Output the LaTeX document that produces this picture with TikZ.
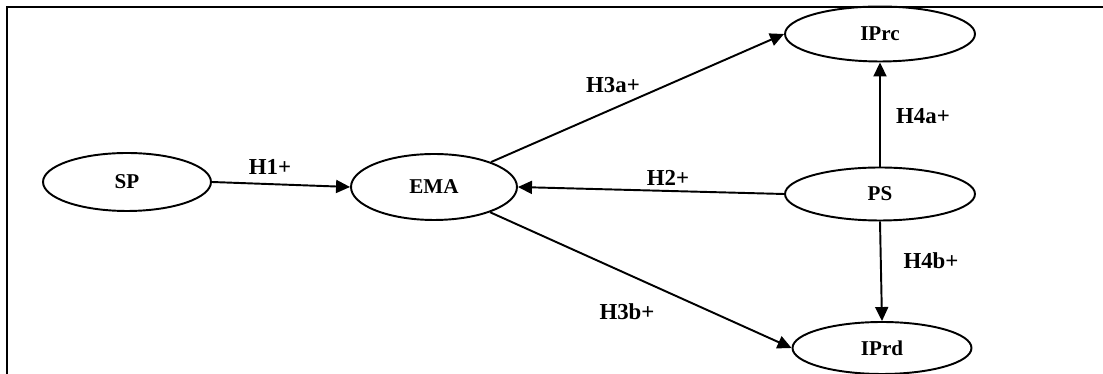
\documentclass[tikz,border=0pt]{standalone}
\usepackage{fontspec}
\setmainfont{Liberation Serif}
\usetikzlibrary{shapes.geometric,arrows.meta}
\begin{document}
\begin{tikzpicture}[x=0.02cm, y=-0.02cm,
    latent/.style={draw, ellipse, line width=1.1pt, inner sep=0pt, font=\fontsize{12}{14}\selectfont\bfseries},
    hyp/.style={-{Triangle[length=0.28cm,width=0.26cm]}, line width=1.1pt},
    hlabel/.style={font=\fontsize{13}{15}\selectfont\bfseries}]
    \useasboundingbox (0,0) rectangle (1103,374);

    % Frame around the model
    \draw[line width=1.1pt] (7,374) -- (7,7) -- (1103,7);

    % Constructs
    \node[latent, minimum width=3.36cm, minimum height=1.16cm] (SP) at (127,182) {SP};
    \node[latent, minimum width=3.32cm, minimum height=1.32cm] (EMA) at (434,187) {EMA};
    \node[latent, minimum width=3.8cm, minimum height=1.1cm] (IPrc) at (880,34) {IPrc};
    \node[latent, minimum width=3.8cm, minimum height=1.06cm] (PS) at (880,194) {PS};
    \node[latent, minimum width=3.58cm, minimum height=1.04cm] (IPrd) at (882,348) {IPrd};

    % Hypothesised paths
    \draw[hyp] (SP.east) -- (EMA.west);
    \draw[hyp] (EMA) -- (IPrc.west);
    \draw[hyp] (EMA) -- (IPrd.west);
    \draw[hyp] (PS.west) -- (EMA.east);
    \draw[hyp] (PS.north) -- (IPrc.south);
    \draw[hyp] (PS.south) -- (IPrd.north);

    % Labels for the hypotheses
    \node[hlabel] (h1) at (270,167) {H1+};
    \node[hlabel] (h2) at (668,178) {H2+};
    \node[hlabel] (h3a) at (613,85) {H3a+};
    \node[hlabel] (h3b) at (627,312) {H3b+};
    \node[hlabel] (h4a) at (923,116) {H4a+};
    \node[hlabel] (h4b) at (931,261) {H4b+};
\end{tikzpicture}
\end{document}
